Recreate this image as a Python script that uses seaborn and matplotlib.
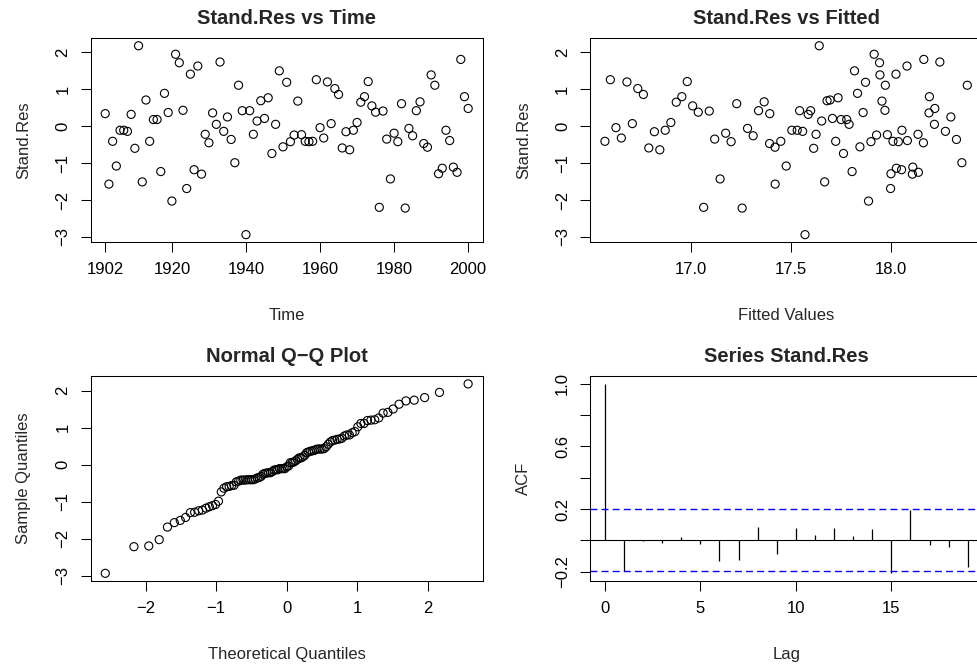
import statistics
import numpy as np
import pandas as pd
import matplotlib
matplotlib.use('Agg')
import matplotlib.pyplot as plt
import seaborn as sns

# --- Data ---
years = list(range(1902, 2001))

stand_res = [
    0.34, -1.57, -0.41, -1.08, -0.11, -0.11, -0.14, 0.32, -0.60, 2.18,
    -1.51, 0.71, -0.41, 0.18, 0.18, -1.23, 0.89, 0.37, -2.03, 1.95,
    1.72, 0.43, -1.69, 1.41, -1.18, 1.63, -1.30, -0.22, -0.45, 0.36,
    0.05, 1.74, -0.14, 0.25, -0.36, -0.99, 1.11, 0.42, -2.94, 0.42,
    -0.22, 0.14, 0.69, 0.21, 0.77, -0.74, 0.05, 1.50, -0.56, 1.19,
    -0.42, -0.24, 0.68, -0.23, -0.41, -0.42, -0.41, 1.26, -0.04, -0.32,
    1.20, 0.07, 1.02, 0.86, -0.59, -0.15, -0.64, -0.11, 0.10, 0.65,
    0.80, 1.21, 0.55, 0.38, -2.20, 0.41, -0.35, -1.43, -0.19, -0.42,
    0.61, -2.22, -0.06, -0.26, 0.42, 0.66, -0.47, -0.57, 1.39, 1.11,
    -1.29, -1.14, -0.11, -0.39, -1.11, -1.25, 1.81, 0.80, 0.48,
]

fitted_vals = [
    # 1902-1938
    17.394, 17.421, 17.449, 17.476, 17.504, 17.531, 17.558, 17.586, 17.613, 17.641,
    17.668, 17.695, 17.723, 17.750, 17.778, 17.805, 17.832, 17.860, 17.887, 17.915,
    17.942, 17.969, 17.997, 18.024, 18.052, 18.079, 18.106, 18.134, 18.161, 18.189,
    18.216, 18.243, 18.271, 18.298, 18.326, 18.353, 18.380,
    # 1939-1957
    17.543, 17.570, 17.598, 17.625, 17.653, 17.680, 17.707, 17.735, 17.762, 17.790,
    17.817, 17.844, 17.872, 17.899, 17.927, 17.954, 17.981, 18.009, 18.036,
    # 1958-1989
    16.571, 16.598, 16.626, 16.653, 16.681, 16.708, 16.735, 16.763, 16.790, 16.818,
    16.845, 16.872, 16.900, 16.927, 16.955, 16.982, 17.009, 17.037, 17.064, 17.092,
    17.119, 17.146, 17.174, 17.201, 17.229, 17.256, 17.283, 17.311, 17.338, 17.366,
    17.393, 17.420,
    # 1990-2000
    17.944, 17.971, 17.999, 18.026, 18.054, 18.081, 18.108, 18.136, 18.163, 18.191,
    18.218,
]

acf_lags = list(range(20))
acf_vals = [1.0, -0.194, -0.004, -0.015, 0.019, -0.026, -0.134, -0.124, 0.087, -0.085,
            0.077, 0.036, 0.081, 0.028, 0.070, -0.211, 0.196, -0.030, -0.043, -0.173]
ci_bound = 0.197

df = pd.DataFrame({'Time': years, 'Stand.Res': stand_res, 'Fitted': fitted_vals})

# Normal Q-Q (R's ppoints for n > 10)
n = len(stand_res)
nd = statistics.NormalDist()
qq_theo = [nd.inv_cdf((i + 0.5) / n) for i in range(n)]
qq_samp = sorted(stand_res)

# --- Style ---
sns.set_style("ticks")
plt.rcParams['font.family'] = ['Liberation Sans', 'DejaVu Sans']
plt.rcParams['axes.linewidth'] = 0.75

fig = plt.figure(figsize=(9.77, 6.66), dpi=100)

W, H = 977.0, 666.0
def box(left, top, right, bottom):
    return [left / W, 1 - bottom / H, (right - left) / W, (bottom - top) / H]

ax_t = fig.add_axes(box(90.7, 38.2, 482.7, 242.2))
ax_f = fig.add_axes(box(590.3, 38.2, 982.3, 242.2))
ax_q = fig.add_axes(box(90.7, 376.3, 482.7, 580.9))
ax_a = fig.add_axes(box(590.3, 376.3, 982.3, 580.9))

pt_kw = dict(marker='o', s=34, facecolor='none', edgecolor='black', linewidth=0.8, legend=False)

sns.scatterplot(data=df, x='Time', y='Stand.Res', ax=ax_t, **pt_kw)
sns.scatterplot(data=df, x='Fitted', y='Stand.Res', ax=ax_f, **pt_kw)
sns.scatterplot(x=qq_theo, y=qq_samp, ax=ax_q, **pt_kw)

ax_a.vlines(acf_lags, 0, acf_vals, color='black', linewidth=0.9)
ax_a.axhline(0, color='black', linewidth=0.8)
for b in (ci_bound, -ci_bound):
    ax_a.axhline(b, color='#0000FF', linewidth=1.0, dashes=(5, 3))

ylim_res = (-3.145, 2.385)

def style(ax, title, xlabel, ylabel, xlim, ylim, xticks, yticks, yticklabels=None):
    ax.set_xlim(*xlim)
    ax.set_ylim(*ylim)
    ax.set_xticks(xticks)
    ax.set_yticks(yticks)
    if yticklabels is not None:
        ax.set_yticklabels(yticklabels)
    ax.set_title(title, fontsize=14.5, fontweight='bold', pad=10)
    ax.set_xlabel(xlabel, fontsize=12)
    ax.set_ylabel(ylabel, fontsize=12)
    ax.xaxis.set_label_coords(0.5, -73 / 204.0)
    ax.xaxis.label.set_va('center')
    ax.yaxis.set_label_coords(-67 / 392.0, 0.5)
    ax.yaxis.label.set_va('center')
    ax.yaxis.label.set_ha('center')
    ax.tick_params(direction='out', length=7.5, width=0.75, pad=7,
                   labelsize=12, colors='black')
    for lab in ax.get_yticklabels():
        lab.set_rotation(90)
        lab.set_va('center')
    for sp in ax.spines.values():
        sp.set_visible(True)
        sp.set_color('black')
        sp.set_linewidth(0.75)
    ax.grid(False)

style(ax_t, 'Stand.Res vs Time', 'Time', 'Stand.Res', (1898.08, 2003.92), ylim_res,
      [1902, 1920, 1940, 1960, 1980, 2000], [-3, -2, -1, 0, 1, 2])
style(ax_f, 'Stand.Res vs Fitted', 'Fitted Values', 'Stand.Res', (16.498, 18.455), ylim_res,
      [17.0, 17.5, 18.0], [-3, -2, -1, 0, 1, 2])
ax_f.set_xticklabels(['17.0', '17.5', '18.0'])
style(ax_q, 'Normal Q\u2212Q Plot', 'Theoretical Quantiles', 'Sample Quantiles',
      (-2.779, 2.779), ylim_res, [-2, -1, 0, 1, 2], [-3, -2, -1, 0, 1, 2])
style(ax_a, 'Series Stand.Res', 'Lag', 'ACF', (-0.76, 19.76), (-0.26, 1.048),
      [0, 5, 10, 15], [-0.2, 0.0, 0.2, 0.4, 0.6, 0.8, 1.0],
      ['\u22120.2', '', '0.2', '', '0.6', '', '1.0'])
for lab in ax_a.get_yticklabels():
    lab.set_rotation(90)
    lab.set_va('center')

fig.savefig('out.png', dpi=100, facecolor='white')
